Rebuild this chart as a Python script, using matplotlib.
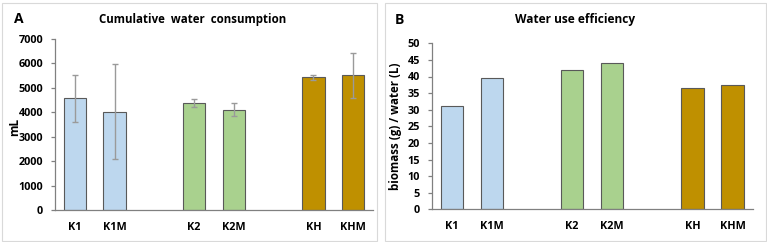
import matplotlib
matplotlib.use("Agg")
import matplotlib.pyplot as plt
from matplotlib.patches import Rectangle

categories = ["K1", "K1M", "K2", "K2M", "KH", "KHM"]
slots = [0, 1, 3, 4, 6, 7]
water = [4580, 4030, 4390, 4110, 5430, 5510]
water_err = [960, 1950, 170, 280, 110, 930]
wue = [31.2, 39.4, 41.9, 44.1, 36.4, 37.4]
colors = ["#BDD7EE", "#BDD7EE", "#A9D18E", "#A9D18E", "#BF9000", "#BF9000"]

W, H = 767, 242
fig = plt.figure(figsize=(W / 100, H / 100), dpi=100)
FONT = "Open Sans"
plt.rcParams["font.family"] = [FONT, "DejaVu Sans"]
plt.rcParams["font.weight"] = "bold"

def px_axes(x0, y0, x1, y1):
    return fig.add_axes([x0 / W, 1 - y1 / H, (x1 - x0) / W, (y1 - y0) / H])

def style(ax):
    for s in ["top", "right"]:
        ax.spines[s].set_visible(False)
    for s in ["left", "bottom"]:
        ax.spines[s].set_color("#808080")
        ax.spines[s].set_linewidth(0.9)
    ax.tick_params(axis="x", length=0, pad=8.5, labelsize=7.8)
    ax.tick_params(axis="y", length=3, width=0.9, color="#808080", pad=5.5, labelsize=7.8)
    for lab in ax.get_xticklabels() + ax.get_yticklabels():
        lab.set_fontweight("bold")
    ax.set_xlim(-0.5, 7.5)

# panel borders
for (x0, x1) in [(1.5, 377), (385, 765.5)]:
    fig.patches.append(Rectangle((x0 / W, 1.5 / H), (x1 - x0) / W, (239.5 - 1.5) / H,
                                 transform=fig.transFigure, fill=False,
                                 edgecolor="#D9D9D9", linewidth=0.8))

# Panel A
axA = px_axes(55, 39, 373, 210)
axA.bar(slots, water, width=0.56, color=colors, edgecolor="#595959", linewidth=0.8, zorder=2)
axA.errorbar(slots, water, yerr=water_err, fmt="none", ecolor="#9A9A9A", elinewidth=1,
             capsize=2.5, capthick=1, zorder=3)
axA.set_ylim(0, 7000)
axA.set_yticks(range(0, 7001, 1000))
axA.set_xticks(slots)
axA.set_xticklabels(categories)
style(axA)
fig.text(15 / W, 1 - 127 / H, "mL", rotation=90, ha="center", va="center",
         fontsize=8.5, fontweight="bold")
fig.text(193 / W, 1 - 19 / H, "Cumulative  water  consumption", ha="center", va="center",
         fontsize=8.3, fontweight="bold")
fig.text(19 / W, 1 - 19 / H, "A", ha="center", va="center", fontsize=10, fontweight="bold")

# Panel B
axB = px_axes(431.7, 43.3, 752.7, 209.3)
axB.bar(slots, wue, width=0.56, color=colors, edgecolor="#595959", linewidth=0.8, zorder=2)
axB.set_ylim(0, 50)
axB.set_yticks(range(0, 51, 5))
axB.set_xticks(slots)
axB.set_xticklabels(categories)
style(axB)
fig.text(395 / W, 1 - 126 / H, "biomass (g) / water (L)", rotation=90, ha="center", va="center",
         fontsize=8.3, fontweight="bold")
fig.text(575 / W, 1 - 19 / H, "Water use efficiency", ha="center", va="center",
         fontsize=8.6, fontweight="bold")
fig.text(399 / W, 1 - 20 / H, "B", ha="center", va="center", fontsize=10, fontweight="bold")

fig.savefig("out.png", dpi=100)
